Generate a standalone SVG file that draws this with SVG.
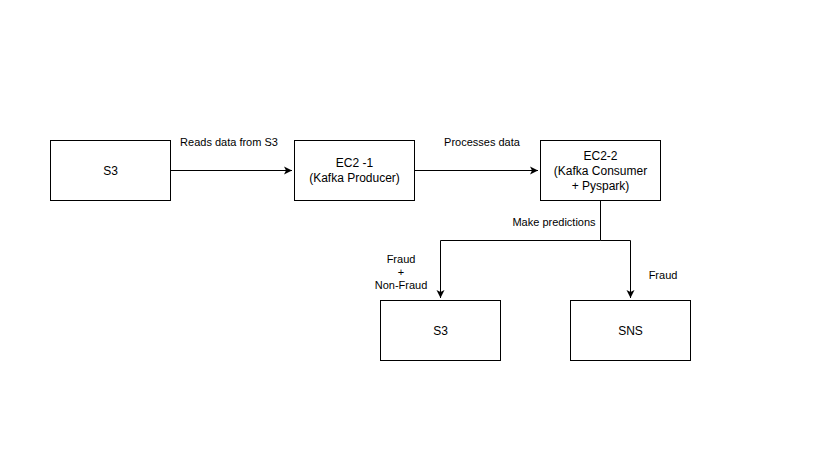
<svg xmlns="http://www.w3.org/2000/svg" width="827" height="465" viewBox="0 0 827 465">
<defs>
<style>
.box{fill:#fff;stroke:#000;stroke-width:1}
.t{font-family:"Liberation Sans",Arial,sans-serif;font-size:12px;fill:#000;text-anchor:middle}
.l{font-family:"Liberation Sans",Arial,sans-serif;font-size:11px;fill:#000;text-anchor:middle}
.e{fill:none;stroke:#000;stroke-width:1}
</style>
<marker id="arr" markerWidth="10" markerHeight="10" refX="8" refY="4" orient="auto" markerUnits="userSpaceOnUse" viewBox="0 0 10 8">
<path d="M0,0 L8,4 L0,8 L2,4 Z" fill="#000"/>
</marker>
</defs>
<rect width="827" height="465" fill="#fff"/>
<g id="s3-source"><rect class="box" x="50.5" y="140.5" width="120" height="60"/><text class="t" x="110.5" y="175">S3</text></g>
<g id="ec2-1"><rect class="box" x="294.5" y="140.5" width="120" height="60"/><text class="t" x="354.5" y="167">EC2 -1</text><text class="t" x="354.5" y="182">(Kafka Producer)</text></g>
<g id="ec2-2"><rect class="box" x="540.5" y="140.5" width="120" height="60"/><text class="t" x="600.5" y="160">EC2-2</text><text class="t" x="600.5" y="175">(Kafka Consumer</text><text class="t" x="600.5" y="190">+ Pyspark)</text></g>
<g id="s3-sink"><rect class="box" x="380.5" y="300.5" width="120" height="60"/><text class="t" x="440.5" y="335">S3</text></g>
<g id="sns"><rect class="box" x="570.5" y="300.5" width="120" height="60"/><text class="t" x="630.5" y="335">SNS</text></g>
<g id="connectors">
<path class="e" d="M170.5,170.5 L292,170.5" marker-end="url(#arr)"/>
<path class="e" d="M414.5,170.5 L538,170.5" marker-end="url(#arr)"/>
<path class="e" d="M600.5,200.5 L600.5,240.5 L440.5,240.5 L440.5,298" marker-end="url(#arr)"/>
<path class="e" d="M600.5,240.5 L630.5,240.5 L630.5,298" marker-end="url(#arr)"/>
<text class="l" x="229" y="146">Reads data from S3</text>
<text class="l" x="482" y="146">Processes data</text>
<text class="l" x="554" y="226">Make predictions</text>
<text class="l" x="401" y="263">Fraud</text>
<text class="l" x="401" y="276">+</text>
<text class="l" x="401" y="289">Non-Fraud</text>
<text class="l" x="663" y="279">Fraud</text>
</g>
</svg>
